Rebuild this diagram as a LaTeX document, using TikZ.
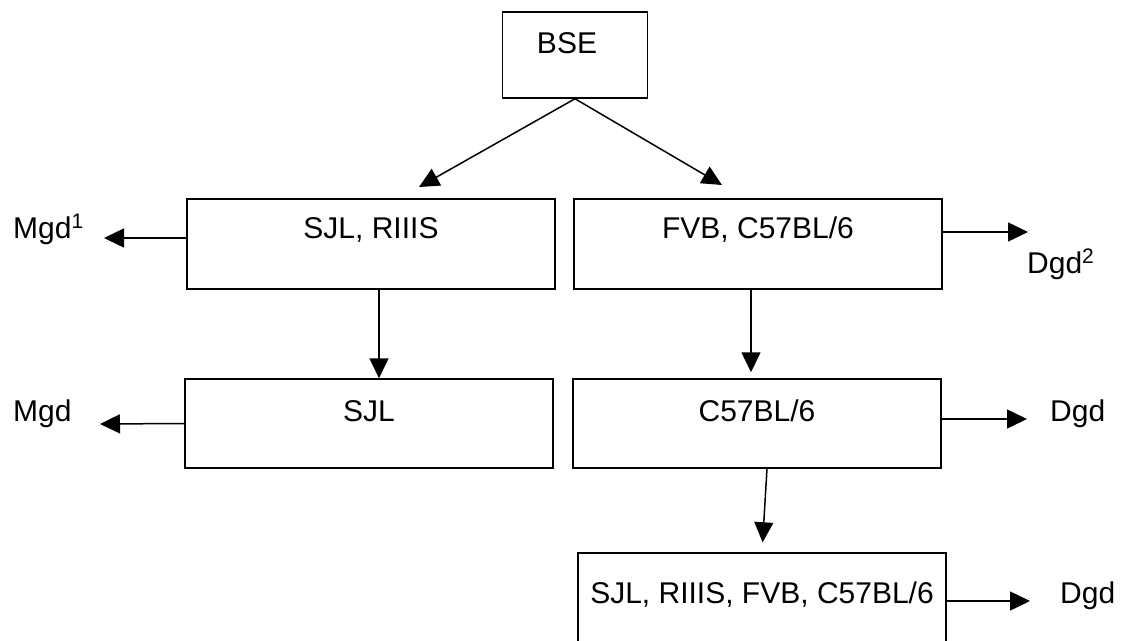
\documentclass[tikz,border=0pt]{standalone}
\usepackage{fontspec}
\setmainfont{Liberation Sans}
\usepackage{tikz}
\usetikzlibrary{positioning, arrows.meta}

\tikzset{
    strain/.style={draw, line width=1.5pt, inner sep=0pt, minimum width=368pt, anchor=base},
    arr/.style={line width=1.5pt, -{Triangle[length=20pt, width=19pt]}},
    lbl/.style={inner sep=0pt, anchor=base west}
}

\begin{document}
\begin{tikzpicture}[x=1pt, y=-1pt, font=\fontsize{30}{36}\selectfont]
            \useasboundingbox (0, 0) rectangle (1122, 640);
            \clip (0, 0) rectangle (1122, 640);

            \node[strain, minimum width=145pt, text height=41pt, text depth=45pt] (Bse) at (575, 53) {BSE\hspace*{16pt}};

            \node[strain, text height=39pt, text depth=51pt] (Sr) at (371, 238) {SJL, RIIIS};
            \node[strain, text height=39pt, text depth=51pt] (Fc) at (758, 238) {FVB, C57BL/6};
            \node[strain, text height=42pt, text depth=47pt] (Sj) at (369, 421) {SJL};
            \node[strain, text height=42pt, text depth=47pt] (Cb) at (757, 421) {C57BL/6};
            \node[strain, text height=50pt, text depth=60pt] (All) at (762, 603) {SJL, RIIIS, FVB, C57BL/6};

            \node[lbl] (Mgd1) at (13, 238) {Mgd\textsuperscript{1}};
            \node[lbl] (Mgd) at (13, 421) {Mgd};
            \node[lbl] (Dgd2) at (1027, 273) {Dgd\textsuperscript{2}};
            \node[lbl] (Dgd) at (1050, 421) {Dgd};
            \node[lbl] (DgdAll) at (1060, 603) {Dgd};

            \coordinate (tSr) at (419, 187);
            \coordinate (tFc) at (722, 185);
            \coordinate (tMgd1) at (104, 238);
            \coordinate (tMgd) at (100, 424);
            \coordinate (tDgd2) at (1028, 232);
            \coordinate (tDgd) at (1027, 419);
            \coordinate (tDgdAll) at (1030, 601);

            \draw [arr] (Bse.south) -- (tSr);
            \draw [arr] (Bse.south) -- (tFc);

            \draw [arr] (Sr.base west) -- (tMgd1);
            \draw [arr] ([yshift=6pt]Fc.base east) -- (tDgd2);
            \draw [arr] (Sj.west) -- (tMgd);
            \draw [arr] ([yshift=2pt]Cb.base east) -- (tDgd);
            \draw [arr] ([yshift=2pt]All.base east) -- (tDgdAll);

            \draw [arr] ([xshift=8pt]Sr.south) -- ([xshift=8pt]Sr.south |- Sj.north);
            \draw [arr, shorten >=6pt] ([xshift=-7pt]Fc.south) -- ([xshift=-7pt]Fc.south |- Cb.north);
            \draw [arr, shorten >=10pt] ([xshift=10pt]Cb.south) -- (All.north);
        \end{tikzpicture}
\end{document}
